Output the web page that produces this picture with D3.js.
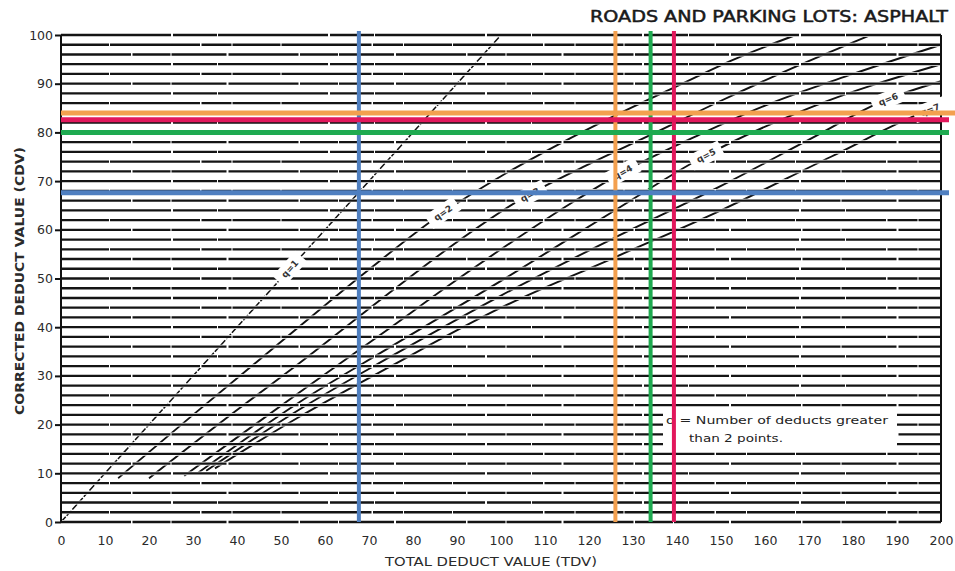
<!DOCTYPE html>
<html>
<head>
<meta charset="utf-8">
<script src="https://cdn.jsdelivr.net/npm/d3@7"></script>
<style>
  html, body { margin: 0; padding: 0; background: #fff; }
  svg { display: block; }
  text { font-family: "DejaVu Sans", "Liberation Sans", sans-serif; }
</style>
</head>
<body>
<svg id="chart" width="955" height="571"></svg>
<script>
// Axis tick labels
const tdvTicks = [0, 10, 20, 30, 40, 50, 60, 70, 80, 90, 100, 110, 120, 130, 140, 150, 160, 170, 180, 190, 200];
const cdvTicks = [0, 10, 20, 30, 40, 50, 60, 70, 80, 90, 100];

// Corrected deduct value curves, [TDV, CDV] pairs, one per q
const curveQ1 = [[0, 0], [100, 100]];
const curveQ2 = [[13, 9], [30, 22], [50, 37], [69.5, 51.5], [86.8, 63.5], [100, 71], [113, 77.5], [126, 83.5], [140, 89.5], [153, 95], [167, 100]];
const curveQ3 = [[20, 9], [40, 23], [54, 32.5], [76, 48], [90, 57.5], [104, 66], [120, 73.5], [134, 79.5], [150, 86.5], [167, 93.5], [184, 100]];
const curveQ4 = [[28, 9.5], [54, 26.5], [75, 40], [87.7, 48.3], [100, 56], [116, 65.5], [128, 72], [145, 79.5], [160, 85.5], [180, 92], [200, 98]];
const curveQ5 = [[31, 10], [54, 24.5], [75, 36], [100, 49.5], [125, 63.5], [146, 75], [170, 85], [200, 94]];
const curveQ6 = [[33, 10.5], [54, 23], [75, 34], [100, 46.5], [125, 58], [150, 69], [170, 78.5], [187, 86.5], [200, 90.5]];
const curveQ7 = [[35, 11], [54, 21.5], [75, 32], [100, 44], [125, 54], [150, 64], [175, 75], [197, 84.5], [200, 85.5]];

const curveNames = ["q=1", "q=2", "q=3", "q=4", "q=5", "q=6", "q=7"];
const curves = [curveQ1, curveQ2, curveQ3, curveQ4, curveQ5, curveQ6, curveQ7];
// Where each q label sits along its curve (TDV)
const labelTDV = [52, 86.8, 106.6, 127.7, 146.6, 188, 197.5];

const readTDV = [67.7, 126, 134, 139.3];
const readCDV = [67.6, 84, 80, 82.6];
const readColors = ["#4f7fc0", "#f3a04f", "#1eaa50", "#e2175c"];

const titleText = "ROADS AND PARKING LOTS:  ASPHALT";
const xTitle = "TOTAL DEDUCT VALUE (TDV)";
const yTitle = "CORRECTED DEDUCT VALUE (CDV)";
const legendLines = ["q = Number of deducts greater", "than 2 points."];

const svg = d3.select("#chart");
const x = d3.scaleLinear().domain([0, 200]).range([61, 941]);
const y = d3.scaleLinear().domain([0, 100]).range([522, 35]);

// Curves (drawn first so the ruling breaks them into segments)
const line = d3.line().x(d => x(d[0])).y(d => y(d[1])).curve(d3.curveMonotoneX);
svg.append("g").selectAll("path").data(curves).join("path")
  .attr("d", line)
  .attr("fill", "none").attr("stroke", "#111")
  .attr("stroke-width", (d, i) => (i === 0 ? 1.5 : 1.9))
  .attr("stroke-dasharray", (d, i) => (i === 0 ? "7,1.5" : null));

// Horizontal ruling every 2 units of CDV, with a thin white edge
const ruling = d3.range(0, 100.001, 2);
const rulingG = svg.append("g");
rulingG.selectAll("line.halo").data(ruling).join("line").attr("class", "halo")
  .attr("x1", x(0)).attr("x2", x(200))
  .attr("y1", d => y(d)).attr("y2", d => y(d))
  .attr("stroke", "#fff").attr("stroke-width", 3.8);
rulingG.selectAll("line.rule").data(ruling).join("line").attr("class", "rule")
  .attr("x1", x(0)).attr("x2", x(200))
  .attr("y1", d => y(d)).attr("y2", d => y(d))
  .attr("stroke", "#141414").attr("stroke-width", 2.3)
  .attr("stroke-dasharray", (d, i) => (i % 3 === 0 ? "70,1.5,38,1,55,2" : i % 3 === 1 ? "48,1,90,1.5,30,1" : "110,2,44,1"));

// Frame: left axis and right edge
svg.append("line").attr("x1", x(0)).attr("x2", x(0)).attr("y1", y(100)).attr("y2", y(0))
  .attr("stroke", "#111").attr("stroke-width", 2);
svg.append("line").attr("x1", x(200)).attr("x2", x(200)).attr("y1", y(100)).attr("y2", y(0))
  .attr("stroke", "#111").attr("stroke-width", 2);

// Curve labels with white knock-out boxes
function cdvAt(pts, t) {
  for (let i = 0; i < pts.length - 1; i++) {
    const [t0, c0] = pts[i], [t1, c1] = pts[i + 1];
    if (t >= t0 && t <= t1) return c0 + (c1 - c0) * (t - t0) / (t1 - t0);
  }
  return pts[pts.length - 1][1];
}
const labelG = svg.append("g");
curves.forEach((pts, i) => {
  const t = labelTDV[i];
  const c = cdvAt(pts, t);
  const px = x(t), py = y(c);
  const a = Math.atan2(y(cdvAt(pts, t + 3)) - y(cdvAt(pts, t - 3)), x(t + 3) - x(t - 3)) * 180 / Math.PI;
  const g = labelG.append("g").attr("transform", `translate(${px},${py}) rotate(${a})`);
  g.append("rect").attr("x", -17).attr("y", -8).attr("width", 34).attr("height", 16).attr("fill", "#fff");
  g.append("text").attr("text-anchor", "middle").attr("dy", "0.35em")
    .attr("font-size", 9).attr("font-weight", "bold").attr("fill", "#333").text(curveNames[i]);
});

// Legend note
const legendG = svg.append("g");
legendG.append("rect").attr("x", 663).attr("y", 407).attr("width", 234).attr("height", 40).attr("fill", "#fff");
legendG.append("text").attr("x", 666).attr("y", 424).attr("font-size", 11).attr("fill", "#222")
  .attr("textLength", 222).attr("lengthAdjust", "spacingAndGlyphs").text(legendLines[0]);
legendG.append("text").attr("x", 689).attr("y", 442).attr("font-size", 11).attr("fill", "#222")
  .attr("textLength", 94).attr("lengthAdjust", "spacingAndGlyphs").text(legendLines[1]);

// Axes
const xAxis = svg.append("g").attr("transform", `translate(0,${y(0)})`)
  .call(d3.axisBottom(x).tickValues(tdvTicks).tickSize(0).tickPadding(14));
xAxis.select(".domain").remove();
xAxis.selectAll("text").attr("font-size", 12.5).attr("fill", "#2a2a2a")
  .style("font-family", "'DejaVu Sans', sans-serif");

const yAxis = svg.append("g").attr("transform", `translate(${x(0)},0)`)
  .call(d3.axisLeft(y).tickValues(cdvTicks).tickSize(6).tickPadding(2));
yAxis.select(".domain").remove();
yAxis.selectAll("line").attr("stroke", "#111").attr("stroke-width", 2);
yAxis.selectAll("text").attr("font-size", 12.5).attr("fill", "#2a2a2a")
  .style("font-family", "'DejaVu Sans', sans-serif");

// Reading lines
readTDV.forEach((t, i) => {
  svg.append("line").attr("x1", x(t)).attr("x2", x(t)).attr("y1", y(100) - 4).attr("y2", y(0))
    .attr("stroke", readColors[i]).attr("stroke-width", 4);
});
readCDV.forEach((c, i) => {
  svg.append("line").attr("x1", x(0)).attr("x2", i === 1 ? 955 : 949).attr("y1", y(c)).attr("y2", y(c))
    .attr("stroke", readColors[i]).attr("stroke-width", 5);
});

// Titles
svg.append("text").attr("x", 590).attr("y", 22).attr("font-size", 15)
  .attr("fill", "#1a1a1a").attr("stroke", "#1a1a1a").attr("stroke-width", 0.5)
  .attr("textLength", 358).attr("lengthAdjust", "spacingAndGlyphs").text(titleText);
svg.append("text").attr("x", 491).attr("y", 566).attr("text-anchor", "middle").attr("font-size", 12)
  .attr("fill", "#2a2a2a").attr("textLength", 212).attr("lengthAdjust", "spacingAndGlyphs").text(xTitle);
svg.append("text").attr("transform", "translate(24,281) rotate(-90)").attr("text-anchor", "middle")
  .attr("font-size", 12).attr("font-weight", "bold").attr("fill", "#2a2a2a")
  .attr("textLength", 268).attr("lengthAdjust", "spacingAndGlyphs").text(yTitle);
</script>
</body>
</html>
